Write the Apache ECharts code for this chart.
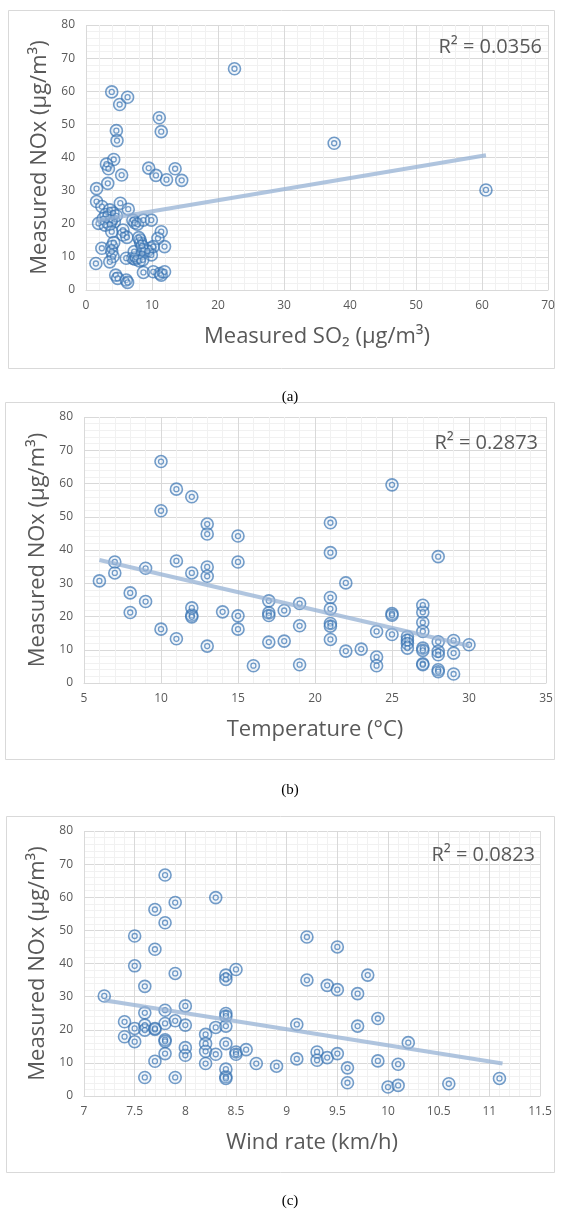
<!DOCTYPE html>
<html>
<head>
<meta charset="utf-8">
<title>Measured NOx vs SO2, temperature and wind rate</title>
<script src="https://cdn.jsdelivr.net/npm/echarts@6/dist/echarts.min.js"></script>
<style>
  html, body { margin: 0; padding: 0; background: #ffffff; }
  #chart { width: 562px; height: 1209px; }
</style>
</head>
<body>
<div id="chart"></div>
<script>
// ---- Panel (a): NOx against SO2 ----
const so2A = [22.5, 3.9, 5.1, 6.3, 11.1, 11.4, 4.6, 4.7, 4.2, 3.1, 3.4, 5.4, 3.3, 1.6, 9.5, 10.6, 12.2, 13.5, 14.5, 37.6, 60.6,
  1.6, 5.2, 6.4, 2.4, 3.6, 4.1, 3.4, 3.9, 4.3, 1.9, 2.9, 3.6, 4.6, 3.0, 2.6, 3.9, 5.6, 5.6, 6.2, 7.1, 7.4, 7.8, 8.7, 9.9,
  8.2, 8.3, 8.7, 8.5, 11.4, 10.9, 11.9, 9.7, 10.2, 9.9, 9.3, 2.4, 3.9, 3.9, 4.1, 3.6, 1.5, 4.2, 6.1, 7.1, 7.4, 7.6, 8.1, 8.6,
  8.7, 4.5, 4.8, 6.1, 6.3, 10.2, 11.2, 11.4, 11.9, 7.3, 8.0, 8.5];
const noxA = [66.8, 59.8, 56.0, 58.2, 52.0, 47.8, 48.1, 45.1, 39.4, 38.0, 36.6, 34.7, 32.2, 30.6, 36.8, 34.6, 33.3, 36.6, 33.1, 44.3, 30.2,
  26.7, 26.2, 24.4, 25.2, 24.2, 23.2, 22.1, 21.1, 20.6, 20.1, 19.6, 19.8, 22.4, 22.8, 21.5, 17.6, 18.1, 16.6, 15.9, 21.1, 20.3, 19.9, 21.1, 21.1,
  15.1, 14.2, 12.1, 11.0, 17.6, 15.6, 13.1, 12.6, 13.1, 10.6, 11.8, 12.6, 13.1, 11.6, 10.1, 8.5, 8.0, 14.3, 9.6, 9.6, 9.3, 9.8, 8.8, 9.1,
  5.3, 4.5, 3.5, 3.0, 2.3, 5.5, 5.0, 4.5, 5.5, 11.6, 15.8, 13.3];
const trendAX = [1.5, 60.6];
const trendAY = [20.9, 40.7];

// ---- Panel (b): NOx against temperature ----
const tempB = [10, 11, 12, 10, 13, 13, 15, 7, 7, 6, 9, 11, 12, 13, 13, 15,
  8, 8, 9, 10, 11, 12, 12, 12, 13, 14, 15, 15, 16, 17, 17, 17, 17, 18, 18, 19, 19, 19,
  21, 21, 21, 21, 21, 21, 21, 22, 22, 23, 24, 24, 24, 25, 25, 25, 25, 26, 26, 26, 26,
  27, 27, 27, 27, 27, 27, 27, 27, 28, 28, 28, 28, 28, 28, 29, 29, 29, 30];
const noxB = [66.6, 58.3, 56.0, 51.8, 47.8, 44.8, 44.2, 36.4, 33.1, 30.7, 34.5, 36.7, 33.1, 34.9, 32.1, 36.4,
  27.1, 21.2, 24.5, 16.2, 13.3, 22.6, 20.4, 19.9, 11.1, 21.4, 20.2, 16.2, 5.2, 24.7, 21.1, 20.3, 12.3, 21.8, 12.6, 23.9, 17.2, 5.5,
  48.2, 39.2, 25.7, 22.3, 17.9, 17.1, 13.1, 30.1, 9.6, 10.2, 15.5, 7.8, 5.2, 59.6, 20.9, 20.4, 14.6, 13.9, 12.9, 11.9, 10.5,
  23.4, 21.3, 18.2, 15.5, 10.5, 9.8, 5.8, 5.5, 38.0, 12.4, 9.5, 8.5, 4.0, 3.4, 12.8, 9.0, 2.7, 11.5];
const trendBX = [6, 30];
const trendBY = [37.0, 11.2];

// ---- Panel (c): NOx against wind rate ----
const windC = [7.8, 8.3, 7.9, 7.7, 7.8, 7.5, 7.7, 7.5, 7.9, 8.4, 8.4, 8.5, 7.2, 7.6,
  7.4, 7.4, 7.5, 7.5, 7.6, 7.6, 7.6, 7.7, 7.7, 7.8, 7.8, 7.8, 7.8, 7.8, 7.7, 7.6, 7.9, 7.9, 8.0, 8.0, 8.0, 8.0,
  8.2, 8.2, 8.2, 8.2, 8.3, 8.3, 8.4, 8.4, 8.4, 8.4, 8.4, 8.4, 8.4, 8.5, 8.5, 8.6, 8.7, 8.9, 9.1, 9.1,
  9.2, 9.5, 9.8, 9.2, 9.4, 9.5, 9.7, 9.9, 9.7, 10.2, 9.3, 9.3, 9.4, 9.5, 9.6, 9.6, 9.9, 10.1, 10.0, 10.1, 10.6, 11.1];
const noxC = [66.7, 59.9, 58.4, 56.3, 52.3, 48.3, 44.3, 39.3, 37.0, 36.5, 35.2, 38.2, 30.2, 33.1,
  22.4, 17.9, 20.4, 16.4, 25.1, 21.4, 19.9, 20.1, 20.4, 25.9, 21.9, 17.0, 16.5, 12.8, 10.5, 5.6, 22.7, 5.6, 27.2, 21.4, 14.6, 12.3,
  18.6, 15.8, 13.5, 9.8, 20.7, 12.6, 24.9, 24.1, 21.1, 15.8, 8.1, 5.8, 5.3, 13.3, 12.6, 14.0, 9.8, 9.0, 21.6, 11.2,
  48.0, 45.0, 36.5, 35.0, 33.4, 32.1, 30.9, 23.4, 21.1, 16.1, 13.3, 10.8, 11.6, 12.8, 8.5, 4.0, 10.6, 9.6, 2.7, 3.2, 3.7, 5.3];
const trendCX = [7.2, 11.13];
const trendCY = [28.9, 9.8];

// ---- Text ----
const yTitle = 'Measured NOx (µg/m³)';
const xTitles = ['Measured SO₂ (µg/m³)', 'Temperature (°C)', 'Wind rate (km/h)'];
const r2Labels = ['R² = 0.0356', 'R² = 0.2873', 'R² = 0.0823'];
const captions = ['(a)', '(b)', '(c)'];

const FONT = '"Open Sans", "DejaVu Sans", sans-serif';
const GRID_COLOR = '#d9d9d9';
const TEXT_COLOR = '#595959';
const MARK_COLOR = 'rgba(52, 112, 176, 0.85)';

const zip = (xs, ys) => xs.map((x, i) => [x, ys[i]]);

const panels = [
  { x: so2A, y: noxA, tx: trendAX, ty: trendAY, xMin: 0, xMax: 70, xInt: 10,
    grid: { left: 86, top: 25, width: 462, height: 265 },
    box: [8, 10, 546, 358], r2: [542, 47], cap: 397 },
  { x: tempB, y: noxB, tx: trendBX, ty: trendBY, xMin: 5, xMax: 35, xInt: 5,
    grid: { left: 84, top: 417, width: 462, height: 266 },
    box: [5, 402, 549, 357], r2: [538, 443], cap: 790 },
  { x: windC, y: noxC, tx: trendCX, ty: trendCY, xMin: 7, xMax: 11.5, xInt: 0.5,
    grid: { left: 84, top: 831, width: 456, height: 265 },
    box: [6, 816, 548, 356], r2: [535, 855], cap: 1201 }
];

const option = {
  backgroundColor: '#ffffff',
  animation: false,
  grid: panels.map(p => Object.assign({ containLabel: false }, p.grid)),
  xAxis: panels.map((p, i) => ({
    type: 'value', gridIndex: i, min: p.xMin, max: p.xMax, interval: p.xInt,
    name: xTitles[i], nameLocation: 'middle', nameGap: 36,
    nameTextStyle: { fontFamily: FONT, fontSize: 22, color: TEXT_COLOR },
    axisLine: { show: true, lineStyle: { color: GRID_COLOR } },
    axisTick: { show: false },
    axisLabel: { fontFamily: FONT, fontSize: 12, color: TEXT_COLOR, margin: 10 },
    splitLine: { show: true, lineStyle: { color: GRID_COLOR, width: 1 } },
    minorTick: { show: false, splitNumber: 5 },
    minorSplitLine: { show: true, lineStyle: { color: '#f1f1f1', width: 1 } }
  })),
  yAxis: panels.map((p, i) => ({
    type: 'value', gridIndex: i, min: 0, max: 80, interval: 10,
    name: yTitle, nameLocation: 'middle', nameGap: 32,
    nameTextStyle: { fontFamily: FONT, fontSize: 22, color: TEXT_COLOR },
    axisLine: { show: false },
    axisTick: { show: false },
    axisLabel: { fontFamily: FONT, fontSize: 12, color: TEXT_COLOR, margin: 11 },
    splitLine: { show: true, lineStyle: { color: GRID_COLOR, width: 1 } },
    minorTick: { show: false, splitNumber: 5 },
    minorSplitLine: { show: true, lineStyle: { color: '#f1f1f1', width: 1 } }
  })),
  series: [],
  graphic: []
};

panels.forEach((p, i) => {
  const pts = zip(p.x, p.y);
  // outer ring of each marker
  option.series.push({
    type: 'scatter', xAxisIndex: i, yAxisIndex: i, data: pts,
    symbol: 'circle', symbolSize: 12, z: 2,
    itemStyle: { color: 'rgba(190, 214, 238, 0.25)', borderColor: MARK_COLOR, borderWidth: 1.6 }
  });
  // inner ring
  option.series.push({
    type: 'scatter', xAxisIndex: i, yAxisIndex: i, data: pts,
    symbol: 'circle', symbolSize: 5, z: 3,
    itemStyle: { color: 'rgba(255, 255, 255, 0.4)', borderColor: MARK_COLOR, borderWidth: 1.3 }
  });
  // linear trendline
  option.series.push({
    type: 'line', xAxisIndex: i, yAxisIndex: i, data: zip(p.tx, p.ty),
    symbol: 'none', z: 4, silent: true,
    lineStyle: { color: 'rgba(150, 178, 212, 0.75)', width: 4 }
  });

  // panel frame
  option.graphic.push({
    type: 'rect', silent: true, z: -1,
    shape: { x: p.box[0] + 0.5, y: p.box[1] + 0.5, width: p.box[2], height: p.box[3] },
    style: { fill: 'none', stroke: '#d9d9d9', lineWidth: 1 }
  });
  // R² annotation
  option.graphic.push({
    type: 'text', silent: true, z: 10, x: p.r2[0], y: p.r2[1],
    style: { text: r2Labels[i], font: '20px ' + FONT, fill: TEXT_COLOR,
      align: 'right', verticalAlign: 'middle', textAlign: 'right', textVerticalAlign: 'middle' }
  });
  // sub-figure caption
  option.graphic.push({
    type: 'text', silent: true, z: 10, x: 290, y: p.cap,
    style: { text: captions[i], font: '15px "Liberation Serif", "DejaVu Serif", serif', fill: '#000000',
      align: 'center', verticalAlign: 'middle', textAlign: 'center', textVerticalAlign: 'middle' }
  });
});

const chart = echarts.init(document.getElementById('chart'), null, { renderer: 'canvas' });
chart.setOption(option);
</script>
</body>
</html>
